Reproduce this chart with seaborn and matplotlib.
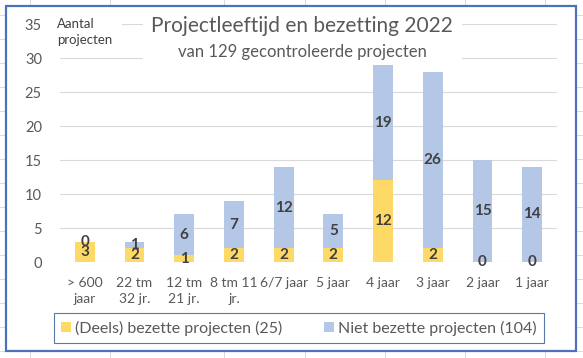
import numpy as np
import pandas as pd
import matplotlib
matplotlib.use("Agg")
import matplotlib.pyplot as plt
import seaborn as sns
from matplotlib.patches import Rectangle
from matplotlib.lines import Line2D

# Data
categories = ["> 600\njaar", "22 tm\n32 jr.", "12 tm\n21 jr.", "8 tm 11\njr.", "6/7 jaar",
              "5 jaar", "4 jaar", "3 jaar", "2 jaar", "1 jaar"]
bezet = [3, 2, 1, 2, 2, 2, 12, 2, 0, 0]
niet_bezet = [0, 1, 6, 7, 12, 5, 17, 26, 15, 14]
# data labels as printed in the chart (4 jaar says 19, bar is drawn ~17 high)
bezet_labels = ["3", "2", "1", "2", "2", "2", "12", "2", "0", "0"]
niet_labels = ["0", "1", "6", "7", "12", "5", "19", "26", "15", "14"]
legend_labels = ["(Deels) bezette projecten (25)", "Niet bezette projecten (104)"]

yellow = "#FFD966"
blue = "#B4C7E7"
grey_txt = "#595959"
label_col = "#404040"

df = pd.DataFrame({"cat": categories, "bezet": bezet, "niet": niet_bezet})
df["totaal"] = df["bezet"] + df["niet"]

sns.set_style("white")
plt.rcParams["font.family"] = ["Lato", "DejaVu Sans"]

W, H = 583, 358
fig = plt.figure(figsize=(W / 100, H / 100), dpi=100)
fig.patch.set_facecolor("white")

def fx(px):
    return px / W

def fy(py):
    return 1 - py / H

ax = fig.add_axes([fx(60), fy(262), fx(557) - fx(60), fy(24) - fy(262)])

# stacked bars: total in blue, yellow part drawn over it
sns.barplot(data=df, x="cat", y="totaal", color=blue, width=0.4, saturation=1,
            linewidth=0, ax=ax)
sns.barplot(data=df, x="cat", y="bezet", color=yellow, width=0.4, saturation=1,
            linewidth=0, ax=ax)

ax.set_ylim(0, 35)
ax.set_xlim(-0.5, len(categories) - 0.5)
ax.set_yticks(np.arange(0, 36, 5))
ax.yaxis.grid(True, color="#D9D9D9", lw=0.8)
ax.set_axisbelow(True)
for s in ["top", "right", "left", "bottom"]:
    ax.spines[s].set_visible(False)
ax.set_xlabel("")
ax.set_ylabel("")
ax.tick_params(axis="both", length=0, colors=grey_txt, labelsize=10.5)
ax.tick_params(axis="x", labelsize=10, pad=11)
ax.tick_params(axis="y", pad=13)
for t in ax.get_xticklabels():
    t.set_linespacing(1.35)

# data labels
for i in range(len(categories)):
    b = bezet[i]
    n = niet_bezet[i]
    ax.text(i, b / 2, bezet_labels[i], ha="center", va="center", fontsize=11,
            fontweight="bold", color=label_col, zorder=5)
    ax.text(i, b + n / 2, niet_labels[i], ha="center", va="center", fontsize=11,
            fontweight="bold", color=label_col, zorder=5)

# white title box hides the gridlines behind it
fig.patches.append(Rectangle((fx(143), fy(62)), fx(462) - fx(143), fy(10) - fy(62),
                             transform=fig.transFigure, facecolor="white",
                             edgecolor="none", zorder=3))
fig.patches.append(Rectangle((fx(56), fy(50)), fx(122) - fx(56), fy(14) - fy(50),
                             transform=fig.transFigure, facecolor="white",
                             edgecolor="none", zorder=3))
fig.text(fx(302), fy(26), "Projectleeftijd en bezetting 2022", ha="center", va="center",
         fontsize=15, color=grey_txt, zorder=4)
fig.text(fx(302), fy(52), "van 129 gecontroleerde projecten", ha="center", va="center",
         fontsize=12, color=grey_txt, zorder=4)
fig.text(fx(57), fy(32), "Aantal\nprojecten", ha="left", va="center", fontsize=9.5,
         color=label_col, linespacing=1.3, zorder=4)

# legend
handles = [Rectangle((0, 0), 1, 1, facecolor=yellow, edgecolor="none"),
           Rectangle((0, 0), 1, 1, facecolor=blue, edgecolor="none")]
leg = fig.legend(handles, legend_labels, loc="center", ncol=2,
                 bbox_to_anchor=(fx(299), fy(328)), frameon=True, fancybox=False,
                 fontsize=11.5, handlelength=0.6, handleheight=0.6, handletextpad=0.3,
                 columnspacing=2.6, borderpad=0.45)
leg.get_frame().set_edgecolor("#2F5597")
leg.get_frame().set_linewidth(0.8)
for t in leg.get_texts():
    t.set_color(grey_txt)

# spreadsheet cell lines outside the chart
cell = "#D9D9D9"
for x in [30, 110, 224, 305, 385, 465, 545]:
    fig.add_artist(Line2D([fx(x), fx(x)], [fy(0), fy(5)], color=cell, lw=0.7))
    fig.add_artist(Line2D([fx(x), fx(x)], [fy(351), fy(358)], color=cell, lw=0.7))
for y in range(15, 352, 24):
    fig.add_artist(Line2D([fx(0), fx(5)], [fy(y), fy(y)], color=cell, lw=0.7))
    fig.add_artist(Line2D([fx(576), fx(583)], [fy(y), fy(y)], color=cell, lw=0.7))

# blue chart frame
fig.patches.append(Rectangle((fx(5.5), fy(350.5)), fx(576) - fx(5.5), fy(5.5) - fy(350.5),
                             transform=fig.transFigure, facecolor="none",
                             edgecolor="#4D72B8", lw=1.6, zorder=6))

fig.savefig("out.png", dpi=100)
